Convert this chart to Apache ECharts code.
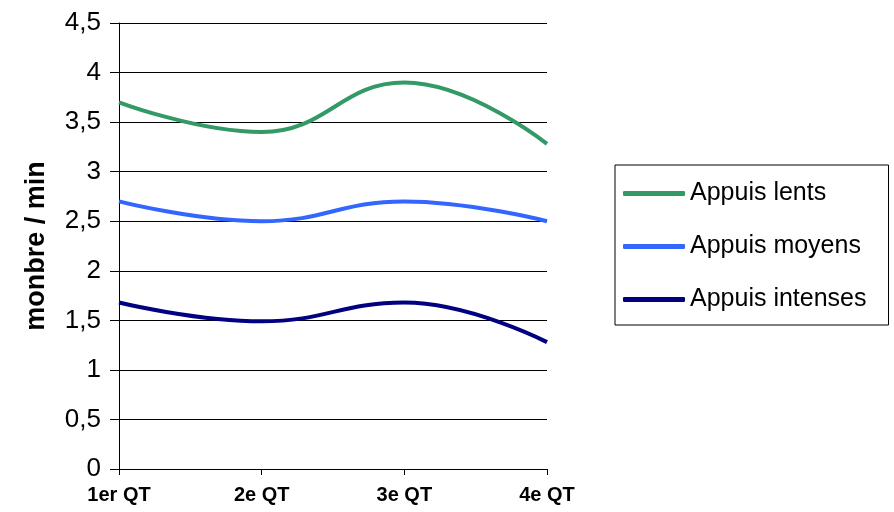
<!DOCTYPE html>
<html><head><meta charset="utf-8">
<script src="https://cdn.jsdelivr.net/npm/echarts@6/dist/echarts.min.js"></script>
<style>html,body{margin:0;padding:0;background:#fff}#c{width:894px;height:512px}</style>
</head><body><div id="c"></div>
<script>
var categories = ["1er QT", "2e QT", "3e QT", "4e QT"];
var lents = [3.7, 3.4, 3.9, 3.28];
var moyens = [2.7, 2.5, 2.7, 2.5];
var intenses = [1.68, 1.49, 1.68, 1.28];
var seriesNames = ["Appuis lents", "Appuis moyens", "Appuis intenses"];
var yTitle = "monbre / min";

var chart = echarts.init(document.getElementById('c'));
var font = "Liberation Sans, Arial, sans-serif";
function mk(name, data, color) {
  return { name: name, type: 'line', data: data, smooth: 0.45, symbol: 'none',
    lineStyle: { width: 4, color: color }, itemStyle: { color: color } };
}
chart.setOption({
  animation: false,
  grid: { left: 119, right: 347, top: 23, bottom: 43 },
  legend: {
    orient: 'vertical', left: 615, top: 165,
    data: seriesNames,
    itemWidth: 62, itemHeight: 5, itemGap: 28,
    padding: [16, 22, 13, 8],
    borderColor: '#000', borderWidth: 1,
    icon: 'roundRect',
    textStyle: { fontFamily: font, fontSize: 25, color: '#000' }
  },
  xAxis: {
    type: 'category', data: categories, boundaryGap: false,
    axisLine: { lineStyle: { color: '#000', width: 1 } },
    axisTick: { length: 6, lineStyle: { color: '#000' } },
    axisLabel: { fontFamily: font, fontSize: 20, fontWeight: 'bold', color: '#000', margin: 16 }
  },
  yAxis: {
    type: 'value', min: 0, max: 4.5, interval: 0.5,
    name: yTitle, nameLocation: 'middle', nameGap: 69, nameRotate: 90,
    nameTextStyle: { fontFamily: font, fontSize: 27, fontWeight: 'bold', color: '#000', padding: [0, 0, 0, 0] },
    axisLine: { show: true, lineStyle: { color: '#000', width: 1 } },
    axisTick: { show: true, length: 9, lineStyle: { color: '#000' } },
    splitLine: { lineStyle: { color: '#000', width: 1 } },
    axisLabel: { fontFamily: font, fontSize: 26, color: '#000', margin: 18,
      formatter: function (v) { return String(v).replace('.', ','); } }
  },
  series: [mk(seriesNames[0], lents, '#339966'), mk(seriesNames[1], moyens, '#3366FF'), mk(seriesNames[2], intenses, '#000080')]
});
</script></body></html>
